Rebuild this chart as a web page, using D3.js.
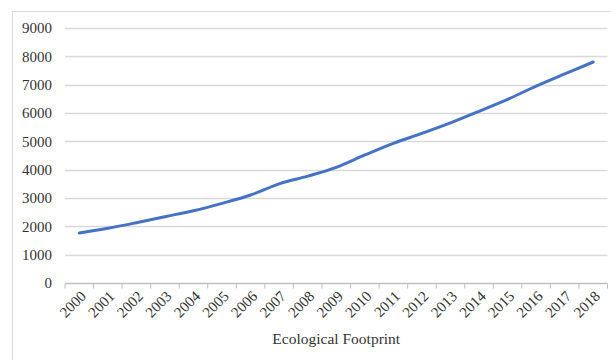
<!DOCTYPE html>
<html>
<head>
<meta charset="utf-8">
<script src="https://cdn.jsdelivr.net/npm/d3@7"></script>
<style>
  body { margin: 0; background: #fff; }
  text { font-family: "Liberation Serif", "Times New Roman", serif; fill: #333; }
</style>
</head>
<body>
<div id="chart"></div>
<script>
// Data
const years = ["2000", "2001", "2002", "2003", "2004", "2005", "2006", "2007", "2008", "2009",
    "2010", "2011", "2012", "2013", "2014", "2015", "2016", "2017", "2018"];
const footprint = [1766, 1930, 2128, 2341, 2552, 2812, 3106, 3500, 3770, 4083,
    4518, 4930, 5280, 5650, 6060, 6480, 6950, 7380, 7800];
const yTicks = [0, 1000, 2000, 3000, 4000, 5000, 6000, 7000, 8000, 9000];
const xTitle = "Ecological Footprint";

const W = 611, H = 360;
const padLeft = 65, padRight = 607.5, padTop = 28, padBottom = 283;

const svg = d3.select("#chart").append("svg")
    .attr("width", W)
    .attr("height", H);

// chart frame
svg.append("rect")
    .attr("x", 12.5).attr("y", 11.5)
    .attr("width", 640).attr("height", 400)
    .attr("fill", "none")
    .attr("stroke", "#d9d9d9");

const x = d3.scaleBand()
    .domain(years)
    .range([padLeft, padRight]);

const y = d3.scaleLinear()
    .domain([0, 9000])
    .range([padBottom, padTop]);

// grid
svg.append("g")
    .selectAll("line")
    .data(yTicks.filter(d => d > 0))
    .join("line")
    .attr("x1", padLeft).attr("x2", padRight)
    .attr("y1", d => Math.round(y(d)) + 0.5)
    .attr("y2", d => Math.round(y(d)) + 0.5)
    .attr("stroke", "#d9d9d9")
    .attr("stroke-width", 1.5);

// y labels
svg.append("g")
    .selectAll("text")
    .data(yTicks)
    .join("text")
    .attr("x", 52)
    .attr("y", d => y(d))
    .attr("dy", "0.35em")
    .attr("text-anchor", "end")
    .attr("font-size", 15)
    .text(d => d);

// x axis
const xAxis = svg.append("g")
    .attr("transform", `translate(0, ${Math.round(padBottom) + 0.5})`);
xAxis.append("line")
    .attr("x1", padLeft).attr("x2", padRight)
    .attr("stroke", "#bfbfbf")
    .attr("stroke-width", 1.5);
xAxis.selectAll(".tick")
    .data(years.concat(["end"]))
    .join("line")
    .attr("class", "tick")
    .attr("x1", (d, i) => padLeft + i * x.step())
    .attr("x2", (d, i) => padLeft + i * x.step())
    .attr("y1", 0).attr("y2", 5)
    .attr("stroke", "#bfbfbf");
xAxis.selectAll(".lbl")
    .data(years)
    .join("text")
    .attr("class", "lbl")
    .attr("transform", d => `translate(${x(d) + x.bandwidth() / 2 + 4}, 10) rotate(-45)`)
    .attr("text-anchor", "end")
    .attr("dy", "0.35em")
    .attr("font-size", 15)
    .text(d => d);

// axis title
svg.append("text")
    .attr("x", (padLeft + padRight) / 2)
    .attr("y", 344)
    .attr("text-anchor", "middle")
    .attr("font-size", 15.5)
    .text(xTitle);

// line
const line = d3.line()
    .x((d, i) => x(years[i]) + x.bandwidth() / 2)
    .y(d => y(d))
    .curve(d3.curveCatmullRom);

svg.append("path")
    .datum(footprint)
    .attr("fill", "none")
    .attr("stroke", "#4472c4")
    .attr("stroke-width", 3)
    .attr("stroke-linecap", "round")
    .attr("d", line);
</script>
</body>
</html>
